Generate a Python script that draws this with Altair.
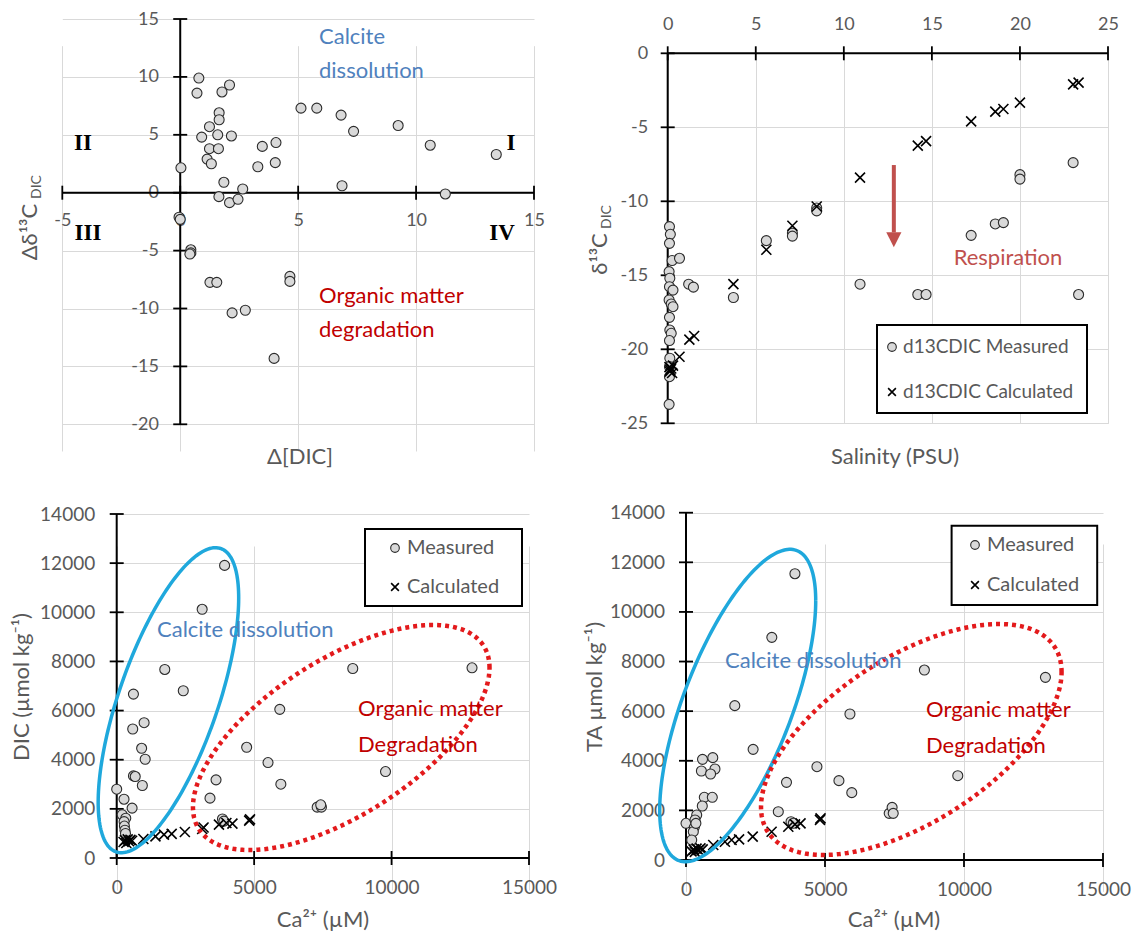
import math
import altair as alt
import pandas as pd

FONT = "Lato"
SERIF = "Liberation Serif"
GRAY = "#595959"
GRIDC = "#d9d9d9"
TXT_BLUE = "#4f81bd"
TXT_RED = "#c00000"
RESP_RED = "#c0504d"
CYAN = "#1fa8dc"
DOT_RED = "#e31a1c"
PT_FILL = "#d9d9d9"
PT_EDGE = "#2b2b2b"
XPATH = "M-1,-1L1,1M-1,1L1,-1"
HEADPATH = "M-1,-1L1,-1L0,1Z"

# ---------------- data ----------------
# Panel A : delta[DIC] vs delta d13C-DIC
A_DIC = [0.79, 0.71, 2.09, 1.77, 1.65, 1.65, 1.24, 0.91, 1.59, 2.17, 1.24, 1.62, 1.14, 1.32,
         0.03, 1.85, 1.64, 2.09, 2.45, 2.65, 3.48, 3.29, 4.06, 4.03, 5.12, 5.79, 6.82, 7.35,
         9.24, 10.6, 13.4, 6.86, 11.24, -0.05, 0.0, 0.45, 0.45, 0.41, 1.26, 1.55, 4.65, 4.65,
         2.2, 2.76, 3.98]
A_D13 = [9.9, 8.6, 9.3, 8.7, 6.9, 6.3, 5.7, 4.8, 5.0, 4.9, 3.8, 3.8, 2.9, 2.5,
         2.15, 0.9, -0.34, -0.86, -0.57, 0.32, 4.0, 2.24, 4.33, 2.6, 7.3, 7.3, 6.7, 5.3,
         5.8, 4.1, 3.3, 0.6, -0.11, -2.12, -2.3, -4.93, -5.2, -5.3, -7.74, -7.74, -7.23, -7.66,
         -10.38, -10.15, -14.31]
A_XTICKS = [-5, 0, 5, 10, 15]
A_YTICKS = [-20, -15, -10, -5, 0, 5, 10, 15]

# Panel B : salinity vs d13C-DIC
B_SAL_MEAS = [0.10, 0.15, 0.10, 0.25, 0.67, 0.08, 0.12, 0.10, 0.30, 0.08, 0.20, 0.30, 0.10,
              0.12, 0.20, 0.10, 0.12, 0.10, 0.10, 0.08,
              1.19, 1.46, 3.73, 5.6, 7.08, 7.08, 8.46, 8.46, 10.92, 14.2, 14.67, 17.23, 18.6,
              19.06, 20.0, 20.0, 23.02, 23.33]
B_D13_MEAS = [-11.71, -12.23, -12.84, -14.0, -13.85, -14.75, -15.2, -15.77, -16.0, -16.67,
              -16.94, -17.12, -17.84, -18.7, -18.92, -19.41, -20.6, -21.17, -21.85, -23.72,
              -15.6, -15.8, -16.5, -12.66, -12.15, -12.35, -10.45, -10.65, -15.6, -16.3, -16.3,
              -12.3, -11.53, -11.44, -8.2, -8.5, -7.39, -16.3]
B_SAL_CALC = [0.10, 0.15, 0.20, 0.25, 0.30, 0.12, 0.67, 1.23, 1.5, 3.73, 5.6, 7.08, 8.46,
              10.92, 14.2, 14.67, 17.23, 18.6, 19.06, 20.0, 23.02, 23.33]
B_D13_CALC = [-21.2, -21.4, -21.3, -21.6, -21.1, -21.5, -20.5, -19.35, -19.1, -15.6, -13.27,
              -11.65, -10.35, -8.4, -6.24, -5.93, -4.6, -3.94, -3.76, -3.33, -2.1, -1.98]
B_XTICKS = [0, 5, 10, 15, 20, 25]
B_YTICKS = [-25, -20, -15, -10, -5, 0]
B_ARROW_SAL = [12.84]
B_ARROW_D13 = [-7.55, -12.1]
B_HEAD_D13 = [-12.6]

# Panel C : Ca vs DIC
C_CA_MEAS = [3925, 3109, 1749, 2422, 609, 997, 583, 907, 1036, 609, 674, 933, 0, 266, 560,
             200, 330, 270, 280, 300, 320, 4728, 5505, 5933, 5972, 3614, 3394, 3847, 3900,
             8588, 12927, 9780, 7293, 7448, 7422]
C_DIC_MEAS = [11908, 10122, 7673, 6806, 6671, 5507, 5250, 4465, 4019, 3342, 3315, 2950, 2801,
              2393, 2030, 1760, 1620, 1480, 1300, 1130, 1000, 4506, 3884, 6049, 3004, 3180,
              2436, 1590, 1500, 7713, 7740, 3518, 2070, 2070, 2165]
C_CA_CALC = [250, 300, 350, 400, 450, 500, 560, 970, 1410, 1720, 2000, 2480, 3110, 3160,
             3720, 3990, 4210, 4820, 4850]
C_DIC_CALC = [650, 720, 610, 760, 680, 740, 700, 775, 880, 950, 980, 1060, 1180, 1240,
              1360, 1425, 1400, 1520, 1570]

# Panel D : Ca vs TA
D_CA_MEAS = [3918, 3087, 1755, 2414, 594, 963, 554, 1042, 884, 658, 946, 586, 385, 0, 324,
             299, 263, 205, 356, 4710, 3615, 5501, 5897, 5963, 8575, 12929, 9776, 3320, 3777,
             3860, 7309, 7414, 7454]
D_TA_MEAS = [11541, 8975, 6221, 4461, 4058, 4125, 3587, 3668, 3466, 2527, 2527, 2177, 1814,
             1479, 1612, 1318, 1141, 806, 1478, 3762, 3130, 3198, 5885, 2714, 7658, 7363, 3399,
             1947, 1544, 1480, 1881, 2123, 1881]
D_CA_CALC = [200, 280, 320, 380, 450, 520, 600, 980, 1400, 1640, 1910, 2400, 3080, 3680,
             3920, 4120, 4820, 4840]
D_TA_CALC = [350, 420, 330, 460, 400, 470, 430, 605, 738, 806, 834, 940, 1141, 1342, 1438,
             1479, 1620, 1680]

CD_XTICKS = [0, 5000, 10000, 15000]
CD_YTICKS = [0, 2000, 4000, 6000, 8000, 10000, 12000, 14000]

# ellipse annotations: centre x, centre y, half-extent x, half-extent y, correlation
C_BLUE_ELL = [1882, 6422, 2556, 6207, 0.67]
C_RED_ELL = [8169, 4904, 5395, 4579, 0.62]
D_BLUE_ELL = [1860, 6227, 2806, 6296, 0.67]
D_RED_ELL = [8104, 4857, 5406, 4655, 0.585]

LEGEND_B = ["d13CDIC Measured", "d13CDIC Calculated"]
LEGEND_CD = ["Measured", "Calculated"]

ONE = pd.DataFrame({"k": [0]})


# ---------------- helpers ----------------
def make_axis(orient, values, offset, pad, size):
    return alt.Axis(orient=orient, values=values, offset=offset, domain=False, ticks=False,
                    grid=True, gridColor=GRIDC, gridWidth=1, labelPadding=pad,
                    labelFontSize=size, labelFont=FONT, labelColor=GRAY, labelFlush=False,
                    labelOverlap=False, labelExpr="toString(datum.value)", title=None)


def make_enc(sx, sy, ax, ay):
    def X(f):
        return alt.X(f, type="quantitative", scale=sx, axis=ax)

    def Y(f):
        return alt.Y(f, type="quantitative", scale=sy, axis=ay)
    return X, Y


def frame(X, Y, xticks, yticks, x0, y0):
    xl = alt.Chart(pd.DataFrame({"a": [min(xticks)], "b": [max(xticks)], "c": [y0]})).mark_rule(
        color="black", strokeWidth=2).encode(x=X("a"), x2="b", y=Y("c"))
    yl = alt.Chart(pd.DataFrame({"a": [x0], "b": [min(yticks)], "c": [max(yticks)]})).mark_rule(
        color="black", strokeWidth=2).encode(x=X("a"), y=Y("b"), y2="c")
    xt = alt.Chart(pd.DataFrame({"v": xticks, "c": [y0] * len(xticks)})).mark_tick(
        orient="vertical", size=14, thickness=1.8, color="black", opacity=1).encode(
        x=X("v"), y=Y("c"))
    yt = alt.Chart(pd.DataFrame({"v": yticks, "c": [x0] * len(yticks)})).mark_tick(
        orient="horizontal", size=14, thickness=1.8, color="black", opacity=1).encode(
        x=X("c"), y=Y("v"))
    return [xl, yl, xt, yt]


def circles(X, Y, xs, ys):
    return alt.Chart(pd.DataFrame({"x": xs, "y": ys})).mark_point(
        shape="circle", filled=True, fill=PT_FILL, stroke=PT_EDGE, strokeWidth=1.1,
        size=100, opacity=1).encode(x=X("x"), y=Y("y"))


def crosses(X, Y, xs, ys):
    return alt.Chart(pd.DataFrame({"x": xs, "y": ys})).mark_point(
        shape=XPATH, filled=False, stroke="black", strokeWidth=1.6, size=100,
        opacity=1).encode(x=X("x"), y=Y("y"))


def text(s, x, y, size, color=GRAY, align="left", angle=0, font=FONT, weight="normal"):
    kw = dict(text=s, fontSize=size, color=color, align=align, baseline="middle",
              font=font, fontWeight=weight)
    if angle:
        kw["angle"] = angle
    return alt.Chart(ONE).mark_text(**kw).encode(x=alt.value(x), y=alt.value(y))


def ellipse(X, Y, p, color, width, dash=None):
    cx, cy, sx, sy, rho = p
    n = 200
    rows = []
    for i in range(n + 1):
        t = 2 * math.pi * i / n
        rows.append({"i": i,
                     "x": cx + sx * math.cos(t),
                     "y": cy + sy * (rho * math.cos(t) + math.sqrt(1 - rho * rho) * math.sin(t))})
    kw = dict(color=color, strokeWidth=width)
    if dash:
        kw["strokeDash"] = dash
        kw["strokeCap"] = "butt"
    return alt.Chart(pd.DataFrame(rows)).mark_line(**kw).encode(
        x=X("x"), y=Y("y"), order="i:Q")


def legend(box, labels, sym_x, ys, text_x, size):
    rect = alt.Chart(ONE).mark_rect(fill="white", stroke="black", strokeWidth=2).encode(
        x=alt.value(box[0]), x2=alt.value(box[1]), y=alt.value(box[2]), y2=alt.value(box[3]))
    c = alt.Chart(ONE).mark_point(shape="circle", filled=True, fill=PT_FILL, stroke=PT_EDGE,
                                  strokeWidth=1.1, size=75, opacity=1).encode(
        x=alt.value(sym_x), y=alt.value(ys[0]))
    k = alt.Chart(ONE).mark_point(shape=XPATH, filled=False, stroke="black", strokeWidth=1.6,
                                  size=60, opacity=1).encode(
        x=alt.value(sym_x), y=alt.value(ys[1]))
    return [rect, c, k, text(labels[0], text_x, ys[0], size), text(labels[1], text_x, ys[1], size)]


# ---------------- panel A ----------------
SXA = alt.Scale(domain=[-5, 15], range=[62.3, 534], nice=False, zero=False)
SYA = alt.Scale(domain=[-20, 15], range=[424.3, 19], nice=False, zero=False)
AXA = make_axis("bottom", A_XTICKS, -(470 - 192.7), 19, 18)
AYA = make_axis("left", A_YTICKS, -180.4, 22, 18)
XA, YA = make_enc(SXA, SYA, AXA, AYA)
pA = alt.layer(
    *frame(XA, YA, A_XTICKS, A_YTICKS, 0, 0),
    circles(XA, YA, A_DIC, A_D13),
    text("Calcite", 319, 37, 22, TXT_BLUE),
    text("dissolution", 319, 71, 22, TXT_BLUE),
    text("Organic matter", 319, 296, 22, TXT_RED),
    text("degradation", 319, 330, 22, TXT_RED),
    text("II", 83, 143, 23, "black", "center", font=SERIF, weight="bold"),
    text("I", 511, 143, 23, "black", "center", font=SERIF, weight="bold"),
    text("III", 88, 233, 23, "black", "center", font=SERIF, weight="bold"),
    text("IV", 502, 233, 23, "black", "center", font=SERIF, weight="bold"),
    text("Δ[DIC]", 300, 457, 22, GRAY, "center"),
    text("Δδ¹³C", 30, 232, 22, GRAY, "center", angle=270),
    text("DIC", 37, 187, 14, GRAY, "center", angle=270),
).properties(width=560, height=470)

# ---------------- panel B ----------------
SXB = alt.Scale(domain=[0, 25], range=[107.7, 548], nice=False, zero=False)
SYB = alt.Scale(domain=[-25, 0], range=[423.3, 53.3], nice=False, zero=False)
AXB = make_axis("top", B_XTICKS, -53.3, 20, 18)
AYB = make_axis("left", B_YTICKS, -107.7, 20, 18)
XB, YB = make_enc(SXB, SYB, AXB, AYB)
arrow = alt.Chart(pd.DataFrame({"x": B_ARROW_SAL, "y": [B_ARROW_D13[0]], "y2": [B_ARROW_D13[1]]})).mark_rule(
    color=RESP_RED, strokeWidth=4).encode(x=XB("x"), y=YB("y"), y2="y2")
head = alt.Chart(pd.DataFrame({"x": B_ARROW_SAL, "y": B_HEAD_D13})).mark_point(
    shape=HEADPATH, filled=True, color=RESP_RED, size=230, opacity=1).encode(x=XB("x"), y=YB("y"))
pB = alt.layer(
    *frame(XB, YB, B_XTICKS, B_YTICKS, 0, 0),
    circles(XB, YB, B_SAL_MEAS, B_D13_MEAS),
    crosses(XB, YB, B_SAL_CALC, B_D13_CALC),
    arrow, head,
    text("Respiration", 448, 258, 22, RESP_RED, "center"),
    *legend([317, 527, 325, 413], LEGEND_B, 332, [347, 392], 343, 19),
    text("Salinity (PSU)", 335, 457, 22, GRAY, "center"),
    text("δ¹³C", 40, 254, 22, GRAY, "center", angle=270),
    text("DIC", 47, 217, 14, GRAY, "center", angle=270),
).properties(width=575, height=470)

# ---------------- panel C ----------------
SXC = alt.Scale(domain=[0, 15000], range=[116.7, 529], nice=False, zero=False)
SYC = alt.Scale(domain=[0, 14000], range=[388, 44], nice=False, zero=False)
AXC = make_axis("bottom", CD_XTICKS, -(464 - 388), 20, 19)
AYC = make_axis("left", CD_YTICKS, -116.7, 22, 19)
XC, YC = make_enc(SXC, SYC, AXC, AYC)
pC = alt.layer(
    *frame(XC, YC, CD_XTICKS, CD_YTICKS, 0, 0),
    circles(XC, YC, C_CA_MEAS, C_DIC_MEAS),
    crosses(XC, YC, C_CA_CALC, C_DIC_CALC),
    ellipse(XC, YC, C_BLUE_ELL, CYAN, 3.5),
    ellipse(XC, YC, C_RED_ELL, DOT_RED, 4.5, [4, 4]),
    text("Calcite dissolution", 157, 160, 22, TXT_BLUE),
    text("Organic matter", 358, 239, 22, TXT_RED),
    text("Degradation", 358, 275, 22, TXT_RED),
    *legend([365, 522, 59, 136], LEGEND_CD, 395, [78, 117], 407, 20),
    text("Ca²⁺ (µM)", 323, 450, 22, GRAY, "center"),
    text("DIC (µmol kg⁻¹)", 22, 217, 22, GRAY, "center", angle=270),
).properties(width=560, height=464)

# ---------------- panel D ----------------
SXD = alt.Scale(domain=[0, 15000], range=[126, 543], nice=False, zero=False)
SYD = alt.Scale(domain=[0, 14000], range=[390, 42.7], nice=False, zero=False)
AXD = make_axis("bottom", CD_XTICKS, -(464 - 390), 20, 19)
AYD = make_axis("left", CD_YTICKS, -126, 21.5, 19)
XD, YD = make_enc(SXD, SYD, AXD, AYD)
pD = alt.layer(
    *frame(XD, YD, CD_XTICKS, CD_YTICKS, 0, 0),
    circles(XD, YD, D_CA_MEAS, D_TA_MEAS),
    crosses(XD, YD, D_CA_CALC, D_TA_CALC),
    ellipse(XD, YD, D_BLUE_ELL, CYAN, 3.5),
    ellipse(XD, YD, D_RED_ELL, DOT_RED, 4.5, [4, 4]),
    text("Calcite dissolution", 165, 191, 22, TXT_BLUE),
    text("Organic matter", 366, 240, 22, TXT_RED),
    text("Degradation", 366, 276, 22, TXT_RED),
    *legend([391.6, 537.2, 55.7, 135], LEGEND_CD, 415, [75, 115], 427, 20),
    text("Ca²⁺ (µM)", 334, 450, 22, GRAY, "center"),
    text("TA µmol kg⁻¹)", 35, 217, 22, GRAY, "center", angle=270),
).properties(width=575, height=464)

chart = alt.concat(pA, pB, pC, pD, columns=2, spacing=0, bounds="flush", align="each").properties(
    padding=0).configure_view(stroke=None)

chart.save("out.html", embed_options={"renderer": "svg", "actions": False})
